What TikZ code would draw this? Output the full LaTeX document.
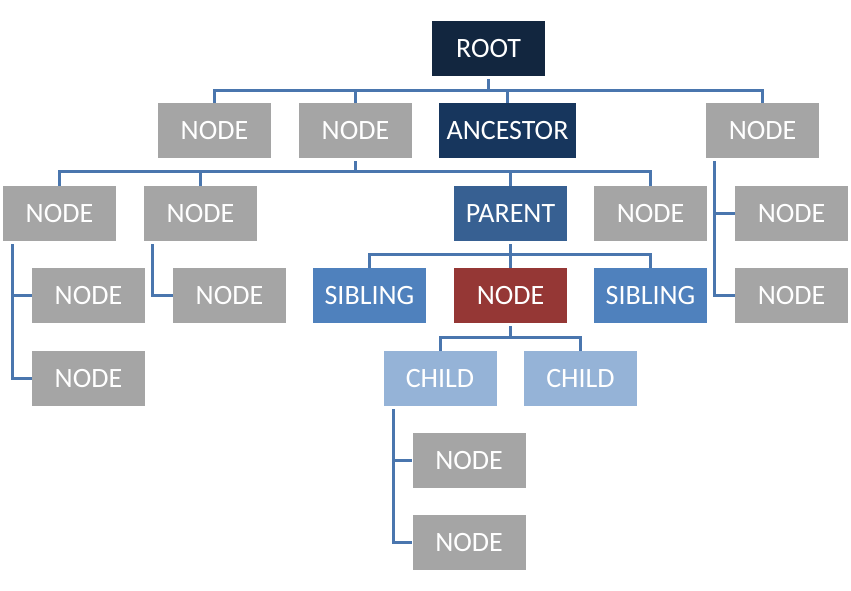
\documentclass[tikz,border=0pt]{standalone}
\usepackage{fontspec}
\setmainfont{Carlito}
\definecolor{cgray}{HTML}{A5A5A5}
\definecolor{croot}{HTML}{12263F}
\definecolor{canc}{HTML}{17365D}
\definecolor{cpar}{HTML}{376092}
\definecolor{csib}{HTML}{4F81BD}
\definecolor{cchild}{HTML}{95B3D7}
\definecolor{ccur}{HTML}{953735}
\definecolor{cline}{HTML}{4A76AE}
\begin{document}
\begin{tikzpicture}[x=1pt,y=-1pt,
  box/.style={fill=#1,text=white,minimum width=113pt,minimum height=55pt,inner sep=0pt,font=\fontsize{28}{32}\selectfont,anchor=center},
  box/.default=cgray,
  conn/.style={draw=cline,line width=3pt}]
\useasboundingbox[fill=white] (0,0) rectangle (851,590);
\node[box=croot] (root) at (488.5,48.5) {ROOT};
\node[box] (r2a) at (214.5,130.5) {NODE};
\node[box] (r2b) at (355.5,130.5) {NODE};
\node[box=canc,minimum width=137pt] (anc) at (507.5,130.5) {ANCESTOR};
\node[box] (r2d) at (762.5,130.5) {NODE};
\node[box] (r3a) at (59.5,213.5) {NODE};
\node[box] (r3b) at (200.5,213.5) {NODE};
\node[box=cpar] (parent) at (510.5,213.5) {PARENT};
\node[box] (r3d) at (650.5,213.5) {NODE};
\node[box] (r3e) at (791.5,213.5) {NODE};
\node[box] (r4a) at (88.5,295.5) {NODE};
\node[box] (r4b) at (229.5,295.5) {NODE};
\node[box=csib] (sib1) at (369.5,295.5) {SIBLING};
\node[box=ccur] (cur) at (510.5,295.5) {NODE};
\node[box=csib] (sib2) at (650.5,295.5) {SIBLING};
\node[box] (r4f) at (791.5,295.5) {NODE};
\node[box] (r5a) at (88.5,378.5) {NODE};
\node[box=cchild] (child1) at (440,378.5) {CHILD};
\node[box=cchild] (child2) at (580.5,378.5) {CHILD};
\node[box] (r6) at (469,460.5) {NODE};
\node[box] (r7) at (469,542) {NODE};
% root to row 2
\foreach \c in {r2a,r2b,anc,r2d}
  \draw[conn] ([yshift=-3pt]root.south) -- ++(0,11) -| (\c.north);
% row2 node to row 3
\foreach \c in {r3a,r3b,parent,r3d}
  \draw[conn] ([yshift=-3pt]r2b.south) -- ++(0,10) -| (\c.north);
% parent to row 4
\foreach \c in {sib1,cur,sib2}
  \draw[conn] ([yshift=-3pt]parent.south) -- ++(0,10) -| (\c.north);
% current node to children
\foreach \c in {child1,child2}
  \draw[conn] ([yshift=-3pt]cur.south) -- ++(0,11) -| (\c.north);
% side branches
\draw[conn] ([xshift=9pt,yshift=-3pt]r2d.south west) |- (r3e.west);
\draw[conn] ([xshift=9pt,yshift=-3pt]r2d.south west) |- (r4f.west);
\draw[conn] ([xshift=10pt,yshift=-3pt]r3a.south west) |- (r4a.west);
\draw[conn] ([xshift=10pt,yshift=-3pt]r3a.south west) |- (r5a.west);
\draw[conn] ([xshift=9pt,yshift=-3pt]r3b.south west) |- (r4b.west);
\draw[conn] ([xshift=10pt,yshift=-3pt]child1.south west) |- (r6.west);
\draw[conn] ([xshift=10pt,yshift=-3pt]child1.south west) |- (r7.west);
\end{tikzpicture}
\end{document}
